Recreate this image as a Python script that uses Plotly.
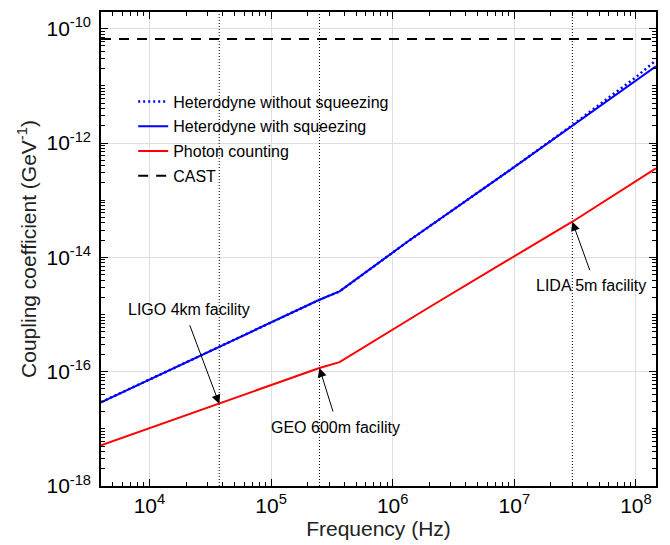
import numpy as np
import plotly.graph_objects as go

# ---------------- data ----------------
het_sq_freq = [4.0e3, 2.5e5, 3.66e5, 1.34e6, 8.9e6, 3.0e7, 1.46e8]
het_sq_val = [2.92e-17, 1.81e-15, 2.54e-15, 1.91e-14, 3.20e-13, 2.04e-12, 2.20e-11]

het_nosq_freq = [4.0e3, 2.5e5, 3.66e5, 1.34e6, 8.9e6, 3.0e7, 6.0e7, 1.0e8, 1.46e8]
het_nosq_val = [2.92e-17, 1.81e-15, 2.54e-15, 1.91e-14, 3.20e-13, 2.05e-12, 6.3e-12, 1.42e-11, 2.80e-11]

photon_freq = [4.0e3, 3.75e4, 2.5e5, 3.66e5, 1.95e6, 8.9e6, 3.0e7, 1.46e8]
photon_val = [5.13e-18, 2.74e-17, 1.16e-16, 1.47e-16, 1.30e-15, 9.0e-15, 4.2e-14, 3.59e-13]

cast_freq = [4.0e3, 1.46e8]
cast_val = [6.6e-11, 6.6e-11]

facility_names = ["LIGO 4km facility", "GEO 600m facility", "LIDA 5m facility"]
facility_freq = [3.75e4, 2.5e5, 3.0e7]

x_tick_vals = [1e4, 1e5, 1e6, 1e7, 1e8]
x_tick_text = ["10<sup>4</sup>", "10<sup>5</sup>", "10<sup>6</sup>", "10<sup>7</sup>", "10<sup>8</sup>"]
y_tick_vals = [1e-18, 1e-16, 1e-14, 1e-12, 1e-10]
y_tick_text = ["10<sup>-18</sup>", "10<sup>-16</sup>", "10<sup>-14</sup>", "10<sup>-12</sup>", "10<sup>-10</sup>"]

x_range_log = [3.602, 8.165]
y_range_log = [-18.0, -9.708]

# ---------------- figure ----------------
FONT = "Liberation Sans, Arial, Helvetica, sans-serif"
fig = go.Figure()

# facility vertical dotted lines
for f in facility_freq:
    fig.add_trace(go.Scatter(
        x=[f, f], y=[10 ** y_range_log[0], 10 ** y_range_log[1]],
        mode="lines", line=dict(color="black", width=1, dash="1px,2px"),
        showlegend=False, hoverinfo="skip"))

fig.add_trace(go.Scatter(
    x=het_nosq_freq, y=het_nosq_val, mode="lines",
    name="Heterodyne without squeezing", legendgroup="a",
    line=dict(color="#0000ff", width=2.5, dash="2px,3px")))
fig.add_trace(go.Scatter(
    x=het_sq_freq, y=het_sq_val, mode="lines",
    name="Heterodyne with squeezing", legendgroup="b",
    line=dict(color="#0000ff", width=2)))
fig.add_trace(go.Scatter(
    x=photon_freq, y=photon_val, mode="lines",
    name="Photon counting", legendgroup="c",
    line=dict(color="#ff0000", width=2)))
fig.add_trace(go.Scatter(
    x=cast_freq, y=cast_val, mode="lines",
    name="CAST", legendgroup="d",
    line=dict(color="black", width=2, dash="10px,8px")))

# arrows pointing to the photon-counting curve at each facility frequency
log_pf = np.log10(photon_freq)
log_pv = np.log10(photon_val)
arrow_tail = [(-30, -80), (14, 45), (18, 50)]
label_pos = [(0.158, 0.372), (0.423, 0.124), (0.882, 0.424)]
for name, f, (ax, ay), (lx, ly) in zip(facility_names, facility_freq, arrow_tail, label_pos):
    yv = np.interp(np.log10(f), log_pf, log_pv)
    fig.add_annotation(x=np.log10(f), y=yv, xref="x", yref="y",
                       ax=ax, ay=ay, axref="pixel", ayref="pixel",
                       text="", showarrow=True, arrowhead=2, arrowsize=1.8,
                       arrowwidth=1, arrowcolor="black", standoff=0, startstandoff=0)
    fig.add_annotation(x=lx, y=ly, xref="paper", yref="paper", text=name,
                       showarrow=False, font=dict(size=16, color="black", family=FONT),
                       xanchor="center", yanchor="middle")

axis_common = dict(
    type="log", showline=True, linecolor="black", linewidth=1.5, mirror="ticks",
    ticks="inside", ticklen=7, tickwidth=1, tickcolor="black",
    showgrid=True, gridcolor="#dedede", gridwidth=1, zeroline=False,
    automargin=False,
    tickfont=dict(size=21, color="black", family=FONT),
    minor=dict(ticks="inside", ticklen=4, tickwidth=1, tickcolor="black",
               dtick="D1", showgrid=False),
)

fig.update_xaxes(axis_common, range=x_range_log, tickmode="array",
                 tickvals=x_tick_vals, ticktext=x_tick_text,
                 title=dict(text="Frequency (Hz)", font=dict(size=21, color="#222", family=FONT), standoff=4))
fig.update_yaxes(axis_common, range=y_range_log, tickmode="array",
                 tickvals=y_tick_vals, ticktext=y_tick_text, ticklabelstandoff=4,
                 title=dict(text="Coupling coefficient (GeV<sup>-1</sup>)",
                            font=dict(size=21, color="#222", family=FONT), standoff=4))

fig.update_layout(
    width=670, height=545,
    margin=dict(l=93, r=22, t=4, b=67, autoexpand=False),
    paper_bgcolor="white", plot_bgcolor="white",
    font=dict(family=FONT, color="black"),
    legend=dict(x=0.058, y=0.847, xanchor="left", yanchor="top",
                bgcolor="rgba(0,0,0,0)", borderwidth=0,
                font=dict(size=16, color="black", family=FONT),
                itemwidth=30, tracegroupgap=1, traceorder="grouped"),
    showlegend=True,
)

fig.write_html("out.html")
